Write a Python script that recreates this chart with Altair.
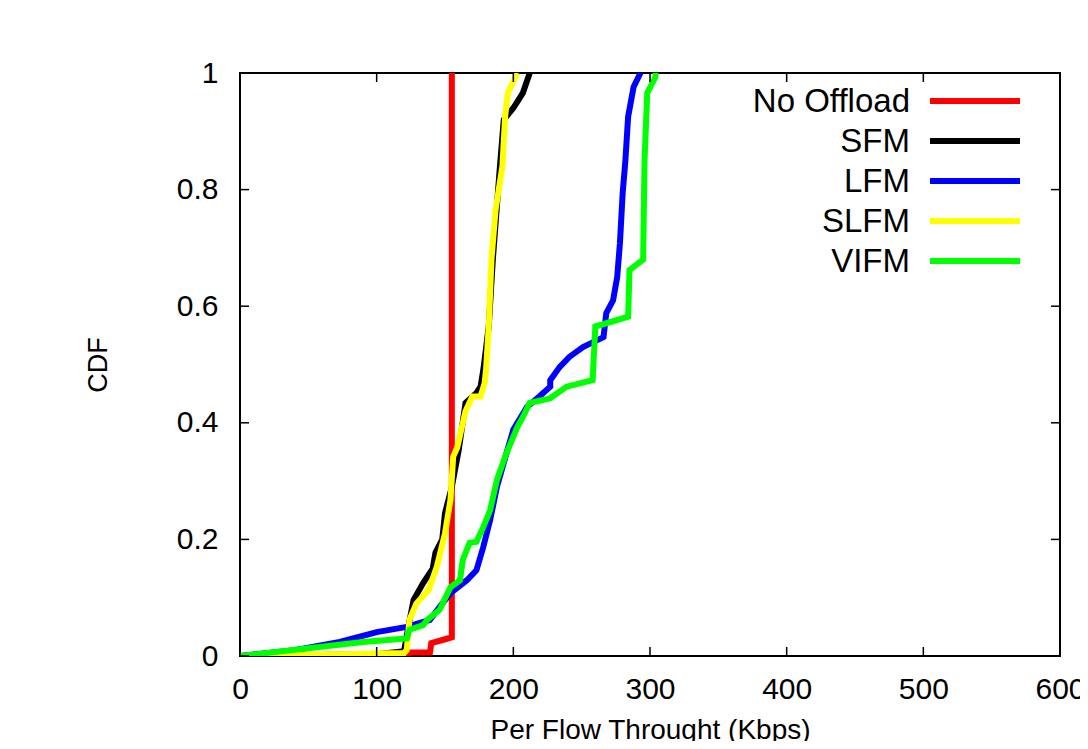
import altair as alt
import pandas as pd

names = ["No Offload", "SFM", "LFM", "SLFM", "VIFM"]
colors = ["#ff0000", "#000000", "#0000ff", "#ffff00", "#00ff00"]

no_offload_x = [0, 120, 125, 139, 140, 152, 155, 155]
no_offload_y = [0, 0.003, 0.006, 0.006, 0.022, 0.030, 0.032, 1.0]

sfm_x = [0, 100, 120, 124, 127, 134, 141, 143, 148, 150, 155, 160, 165, 173, 176, 178,
         182, 185, 190, 193, 200, 207, 212]
sfm_y = [0, 0.003, 0.008, 0.06, 0.096, 0.125, 0.15, 0.177, 0.2, 0.245, 0.29, 0.353, 0.434,
         0.451, 0.462, 0.49, 0.565, 0.68, 0.834, 0.92, 0.94, 0.966, 1.0]

lfm_x = [0, 40, 73, 100, 122, 139, 146, 154, 166, 173, 178, 183, 188, 195, 200, 203, 210,
         219, 227, 227, 234, 241, 251, 266, 268, 273, 276, 278, 280, 282, 284, 288, 293]
lfm_y = [0, 0.01, 0.024, 0.041, 0.05, 0.062, 0.084, 0.108, 0.13, 0.147, 0.187, 0.233, 0.29,
         0.348, 0.388, 0.4, 0.427, 0.445, 0.462, 0.473, 0.496, 0.513, 0.53, 0.547, 0.588,
         0.61, 0.65, 0.708, 0.794, 0.85, 0.925, 0.976, 1.0]

slfm_x = [0, 120, 122, 124, 129, 138, 144, 150, 154, 156, 159, 165, 170, 176, 179, 180,
          182, 184, 187, 192, 194, 196, 203]
slfm_y = [0, 0.005, 0.01, 0.062, 0.09, 0.113, 0.153, 0.21, 0.268, 0.342, 0.358, 0.42,
          0.445, 0.445, 0.468, 0.49, 0.565, 0.68, 0.765, 0.84, 0.925, 0.966, 1.0]

vifm_x = [0, 90, 122, 124, 134, 137, 146, 154, 161, 163, 168, 173, 178, 183, 188, 195,
          203, 207, 212, 227, 239, 258, 260, 284, 285, 295, 296, 298, 304, 304]
vifm_y = [0, 0.024, 0.03, 0.045, 0.053, 0.062, 0.079, 0.118, 0.13, 0.165, 0.194, 0.196,
          0.221, 0.25, 0.302, 0.348, 0.393, 0.41, 0.434, 0.442, 0.462, 0.473, 0.565,
          0.582, 0.662, 0.68, 0.85, 0.966, 0.993, 1.0]

x_ticks = [0, 100, 200, 300, 400, 500, 600]
y_ticks = [0, 0.2, 0.4, 0.6, 0.8, 1.0]

series = [
    ("No Offload", no_offload_x, no_offload_y),
    ("SFM", sfm_x, sfm_y),
    ("LFM", lfm_x, lfm_y),
    ("SLFM", slfm_x, slfm_y),
    ("VIFM", vifm_x, vifm_y),
]

FONT = "Liberation Sans"
W, H = 820, 583
TICK = 9
LBL = 30

xscale = alt.Scale(domain=[0, 600], nice=False, zero=False)
yscale = alt.Scale(domain=[0, 1], nice=False, zero=False)

xaxis = alt.Axis(values=x_ticks, format="d", ticks=False, domain=False, grid=False,
                 labelFlush=False, labelOverlap=False,
                 labelPadding=18, titlePadding=12, labelFont=FONT, labelFontSize=LBL,
                 labelColor="black", titleFont=FONT, titleFontSize=28, titleColor="black",
                 titleFontWeight="normal")
XTITLE = "Per Flow Throught (Kbps)"

layers = []
for i, (name, xs, ys) in enumerate(series):
    df = pd.DataFrame({"x": xs, "y": ys, "idx": list(range(len(xs)))})
    if i == 0:
        yenc = alt.Y("y:Q", scale=yscale, title="CDF",
                     axis=alt.Axis(values=y_ticks, format="~g", ticks=False, domain=False,
                                   grid=False, labelPadding=22, titlePadding=64,
                                   labelFlush=False, labelOverlap=False,
                                   labelFont=FONT, labelFontSize=LBL, labelColor="black",
                                   titleFont=FONT, titleFontSize=27, titleColor="black",
                                   titleFontWeight="normal"))
    else:
        yenc = alt.Y("y:Q", scale=yscale, axis=None)
    layers.append(
        alt.Chart(df).mark_line(strokeWidth=6, color=colors[i], strokeJoin="miter",
                                clip=True)
        .encode(x=alt.X("x:Q", scale=xscale, title=XTITLE, axis=xaxis), y=yenc,
                order="idx:Q")
    )

xt = pd.DataFrame({"x": x_ticks})
yt = pd.DataFrame({"v": y_ticks})
tick_layers = [
    alt.Chart(xt).mark_rule(color="black", strokeWidth=1.5).encode(
        x=alt.X("x:Q", scale=xscale, title=XTITLE, axis=xaxis),
        y=alt.value(H), y2=alt.value(H - TICK)),
    alt.Chart(xt).mark_rule(color="black", strokeWidth=1.5).encode(
        x=alt.X("x:Q", scale=xscale, title=XTITLE, axis=xaxis),
        y=alt.value(0), y2=alt.value(TICK)),
    alt.Chart(yt).mark_rule(color="black", strokeWidth=1.5).encode(
        y=alt.Y("v:Q", scale=yscale, axis=None), x=alt.value(0), x2=alt.value(TICK)),
    alt.Chart(yt).mark_rule(color="black", strokeWidth=1.5).encode(
        y=alt.Y("v:Q", scale=yscale, axis=None), x=alt.value(W), x2=alt.value(W - TICK)),
]

leg = pd.DataFrame({"name": names, "k": list(range(len(names)))})
leg_y = alt.Y("k:Q", scale=alt.Scale(domain=[0, len(names) - 1], range=[28, 188],
                                     nice=False, zero=False), axis=None)
leg_text = alt.Chart(leg).mark_text(align="right", baseline="middle", fontSize=33,
                                    font=FONT, color="black", dy=1).encode(
    x=alt.value(670), y=leg_y, text="name:N")
leg_line = alt.Chart(leg).mark_rule(strokeWidth=6).encode(
    x=alt.value(690), x2=alt.value(780), y=leg_y,
    color=alt.Color("name:N", scale=alt.Scale(domain=names, range=colors), legend=None))

chart = alt.layer(*layers, *tick_layers, leg_line, leg_text).resolve_scale(
    y="independent"
).properties(
    width=W, height=H,
    autosize=alt.AutoSizeParams(type="none"),
    padding={"left": 232, "top": 65, "right": 20, "bottom": 85},
).configure(
    background="white"
).configure_view(
    stroke="black", strokeWidth=2
)

chart.save("out.html", embed_options={"renderer": "svg", "actions": False})
